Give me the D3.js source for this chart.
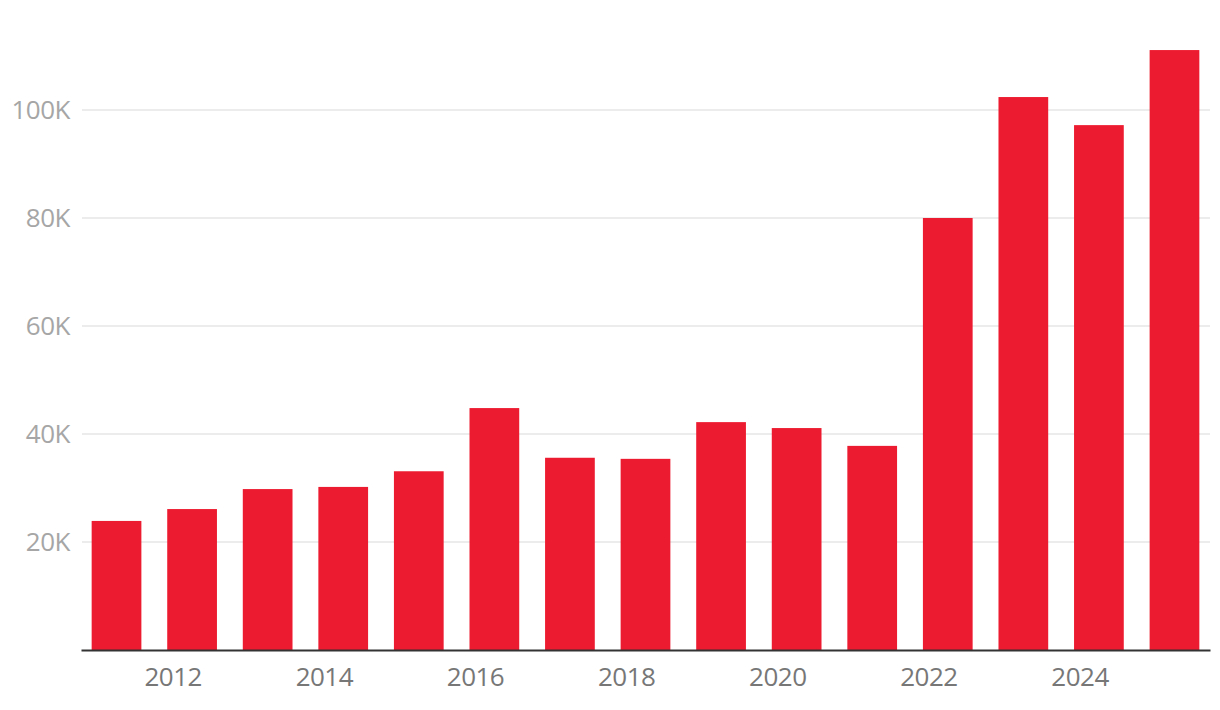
<!DOCTYPE html>
<html><head><meta charset="utf-8">
<script src="https://cdn.jsdelivr.net/npm/d3@7"></script>
<style>
html,body{margin:0;padding:0;background:#fff;}
svg text{font-family:"Open Sans",sans-serif;}
</style></head>
<body>
<svg id="c" width="1220" height="710"></svg>
<script>
const years = [2011,2012,2013,2014,2015,2016,2017,2018,2019,2020,2021,2022,2023,2024,2025];
const values = [23900,26100,29800,30200,33100,44800,35600,35400,42200,41100,37800,80000,102400,97200,111100];
const yTicks = [20000,40000,60000,80000,100000];
const yTickLabels = ["20K","40K","60K","80K","100K"];
const xTicks = [2012,2014,2016,2018,2020,2022,2024];

const svg = d3.select("#c");
const x = d3.scaleBand().domain(years).range([81,1210]).paddingInner(0.342).paddingOuter(0.141);
const y = d3.scaleLinear().domain([0,120000]).range([650,2]);

// gridlines
svg.append("g").selectAll("line").data(yTicks).join("line")
  .attr("x1",82).attr("x2",1210)
  .attr("y1",d=>y(d)).attr("y2",d=>y(d))
  .attr("stroke","#e6e6e6").attr("stroke-width",1.6);

// y labels
svg.append("g").selectAll("text").data(yTicks).join("text")
  .attr("x",70).attr("y",d=>y(d)).attr("dy","0.36em")
  .attr("text-anchor","end").attr("fill","#a6a6a6")
  .attr("font-size",26).attr("letter-spacing",-0.5)
  .text((d,i)=>yTickLabels[i]);

// bars
svg.append("g").selectAll("rect").data(years).join("rect")
  .attr("x",d=>x(d)).attr("width",x.bandwidth())
  .attr("y",(d,i)=>y(values[i])).attr("height",(d,i)=>y(0)-y(values[i]))
  .attr("fill","#ed1b2f");

// x axis
const xAxis = d3.axisBottom(x).tickValues(xTicks).tickSize(0).tickPadding(18);
const gx = svg.append("g").attr("transform","translate(0,650)").call(xAxis);
gx.select(".domain").attr("stroke","#333").attr("stroke-width",2);
gx.selectAll("text").attr("font-size",26).attr("fill","#777")
  .attr("font-family","Open Sans, sans-serif").attr("letter-spacing",-0.5)
  .attr("dx",-(x.bandwidth()/2)+6);
</script>
</body></html>
